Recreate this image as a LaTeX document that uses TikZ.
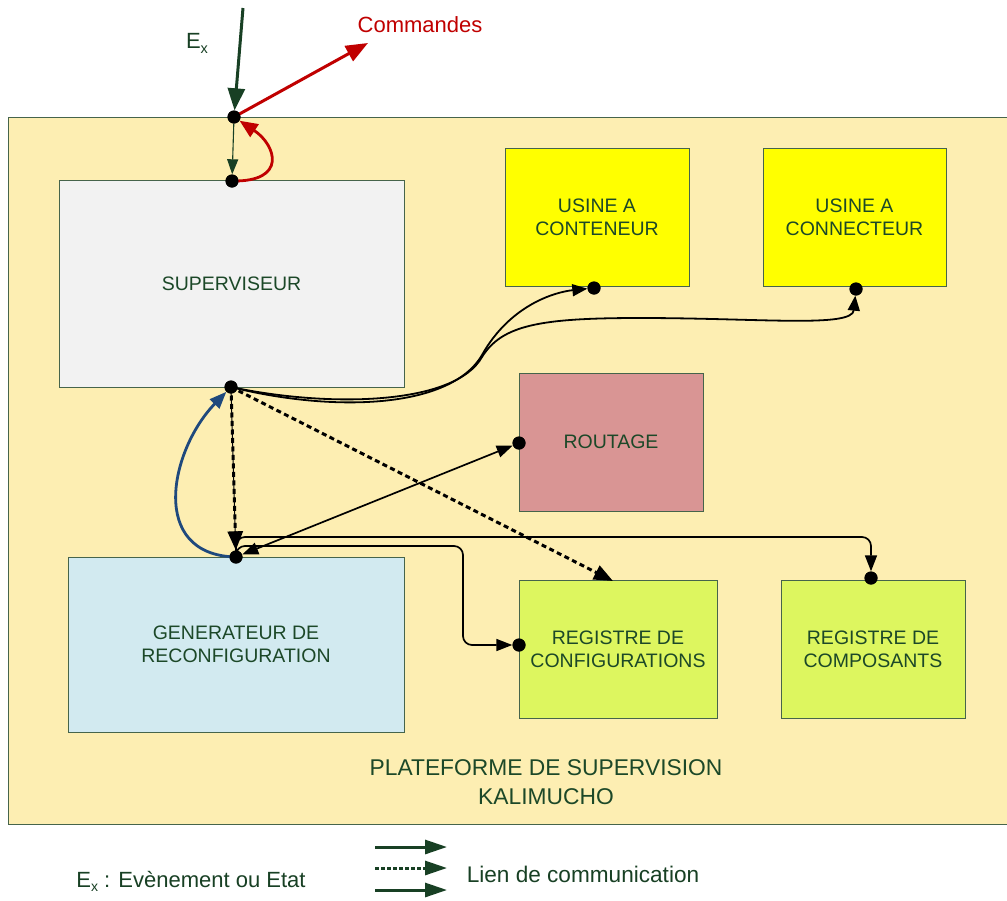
\documentclass[tikz,border=0pt]{standalone}
\usepackage{fontspec}
\setmainfont{Liberation Sans}
\usetikzlibrary{arrows.meta}
\definecolor{platf}{RGB}{253,238,178}
\definecolor{supf}{RGB}{242,242,242}
\definecolor{usinef}{RGB}{255,255,0}
\definecolor{routf}{RGB}{217,149,148}
\definecolor{genf}{RGB}{210,234,240}
\definecolor{regf}{RGB}{221,246,95}
\definecolor{txtg}{RGB}{28,72,40}
\definecolor{bordg}{RGB}{70,100,75}
\definecolor{redc}{RGB}{192,0,0}
\definecolor{bluec}{RGB}{31,73,125}
\definecolor{arrg}{RGB}{24,64,36}
\begin{document}
\begin{tikzpicture}[x=1pt,y=-1pt,
  box/.style={draw=bordg, line width=0.8pt, text=txtg, align=center,
    font=\fontsize{19.5}{23}\selectfont, inner sep=0pt},
  dot/.style={circle, fill=black, inner sep=0pt, minimum size=13pt},
  link/.style={line width=1.7pt, -{Triangle[length=16pt,width=12pt]}},
  dlink/.style={line width=3pt, dash pattern=on 5pt off 3.5pt, -{Triangle[length=19pt,width=15pt]}},
  legarr/.style={arrg, line width=3pt, -{Triangle[length=22pt,width=14pt]}}]
\clip (0,0) rectangle (1007,900);
\fill[white] (0,0) rectangle (1007,900);
% platform
\node[draw=bordg, line width=0.9pt, fill=platf, minimum width=1010pt, minimum height=707pt, inner sep=0pt, anchor=north west] (plat) at (8,117) {};
\node[text=txtg, align=center, font=\fontsize{22.8}{29}\selectfont] (platl) at (546,782) {PLATEFORME DE SUPERVISION\\KALIMUCHO};
% boxes
\node[box, fill=supf, minimum width=345pt, minimum height=207pt] (sup) at (231.5,283.5) {SUPERVISEUR};
\node[box, fill=usinef, minimum width=184pt, minimum height=138pt] (ucont) at (597,217) {USINE A\\CONTENEUR};
\node[box, fill=usinef, minimum width=183pt, minimum height=138pt] (uconn) at (854.5,217) {USINE A\\CONNECTEUR};
\node[box, fill=routf, minimum width=184pt, minimum height=138pt] (rout) at (611,442) {ROUTAGE};
\node[box, fill=genf, minimum width=336pt, minimum height=175pt] (gen) at (236,644.5) {GENERATEUR DE\\RECONFIGURATION};
\node[box, fill=regf, minimum width=198pt, minimum height=138pt] (rcfg) at (618,649) {REGISTRE DE\\CONFIGURATIONS};
\node[box, fill=regf, minimum width=184pt, minimum height=138pt] (rcmp) at (873,649) {REGISTRE DE\\COMPOSANTS};
% dots
\node[dot] (dtop) at (234,117) {};
\node[dot] (dsupt) at (232,181) {};
\node[dot] (dsupb) at (231,387) {};
\node[dot] (dgen) at (236,557) {};
\node[dot] (ducont) at (594,288) {};
\node[dot] (duconn) at (856,289) {};
\node[dot] (drout) at (519,443) {};
\node[dot] (drcfg) at (519,645) {};
\node[dot] (drcmp) at (871,578) {};
\coordinate (exstart) at (243,8);
\coordinate (cmdend) at (368,43);
\coordinate (regtop) at (613,581);
% top arrows
\draw[arrg, line width=3pt, -{Triangle[length=22pt,width=17pt]}] (exstart) -- (dtop);
\draw[redc, line width=3pt, -{Triangle[length=22pt,width=17pt]}] (dtop.center) -- (cmdend);
\draw[arrg, line width=1.1pt, -{Triangle[length=15pt,width=11pt]}] (dtop) -- (dsupt);
\draw[redc, line width=2.8pt, -{Triangle[length=18pt,width=15pt]}] (dsupt.center) .. controls (288,182) and (276,145) .. (dtop);
\node[text=arrg, font=\fontsize{22}{22}\selectfont] (exl) at (197,43) {E\raisebox{-5pt}{\fontsize{14.5}{14.5}\selectfont x}};
\node[text=redc, font=\fontsize{22}{22}\selectfont] (cmdl) at (420,25) {Commandes};
% blue curve
\draw[bluec, line width=2.8pt, -{Triangle[length=17pt,width=13pt]}] (dgen.center) .. controls (148,555) and (170,450) .. (dsupb);
% curves to usines
\draw[line width=1.8pt, -{Triangle[length=15pt,width=12pt]}] (dsupb.center) .. controls (330,412) and (450,410) .. (482,355) .. controls (510,305) and (555,292) .. (ducont);
\draw[line width=1.8pt, -{Triangle[length=15pt,width=12pt]}] (dsupb.center) .. controls (330,408) and (455,405) .. (482,357) .. controls (502,325) and (540,318) .. (640,318) .. controls (760,318) and (852,328) .. (duconn);
% dashed links
\draw[line width=1pt] (dsupb.center) -- (dgen);
\draw[dlink] (dsupb.center) -- (dgen);
\draw[dlink] (dsupb.center) -- (regtop);
% routage
\draw[link, {Triangle[length=16pt,width=12pt]}-{Triangle[length=16pt,width=12pt]}] (dgen) -- (drout);
% orthogonal
\draw[link, rounded corners=9pt] (dgen.center) |- (871,537) -- (drcmp);
\draw[link, rounded corners=9pt] (dgen.center) |- (463,546) |- (drcfg);
% redraw dots on top
\foreach \d in {dtop,dsupt,dsupb,dgen,ducont,duconn,drout,drcfg,drcmp} \fill (\d) circle (6.5pt);
% legend
\coordinate (la1) at (375,847); \coordinate (lb1) at (447,847);
\coordinate (la2) at (375,868); \coordinate (lb2) at (447,868);
\coordinate (la3) at (375,890); \coordinate (lb3) at (447,890);
\draw[legarr] (la1) -- (lb1);
\draw[legarr, dash pattern=on 3.5pt off 2.5pt] (la2) -- (lb2);
\draw[legarr] (la3) -- (lb3);
\node[text=arrg, font=\fontsize{22.6}{22.6}\selectfont] (lienl) at (583,874) {Lien de communication};
\node[text=arrg, font=\fontsize{22}{22}\selectfont] (exleg) at (191,881) {E\raisebox{-4pt}{\fontsize{14}{14}\selectfont x} : Evènement ou Etat};
\end{tikzpicture}
\end{document}
